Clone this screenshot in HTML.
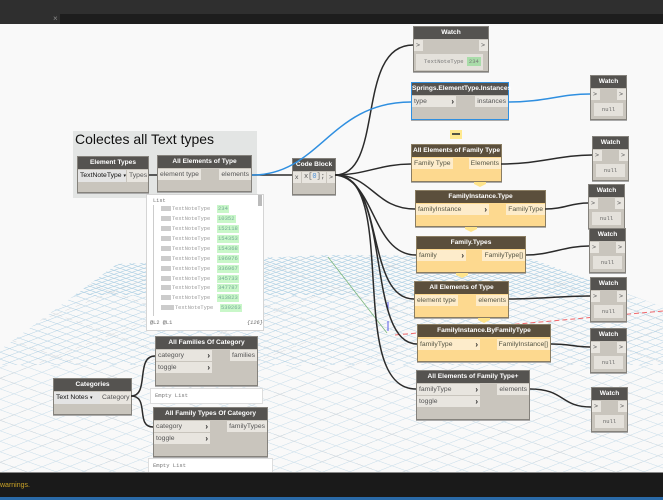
<!DOCTYPE html>
<html><head><meta charset="utf-8"><style>
html,body{margin:0;padding:0}
body{width:663px;height:500px;overflow:hidden;position:relative;background:#f9f9f9;font-family:"Liberation Sans",sans-serif}
div{box-sizing:border-box}
.a{position:absolute}
.n{position:absolute;background:#c9c5bd;border:1px solid #85827c;box-shadow:0 1px 0 #aaa}
.o{background:#fdd98f;border-color:#8a7d62}
.h{position:absolute;left:0;right:0;top:0;height:12px;background:#555350;color:#fff;font-weight:bold;font-size:6.6px;line-height:12px;text-align:center;white-space:nowrap}
.o .h{background:#5b4f3c}
.p{position:absolute;height:11px;background:#e8e5df;color:#555;font-size:6.8px;line-height:11px;padding:0 2px;white-space:nowrap}
.o .p{background:#fdeccb;color:#554}
.r{text-align:right}
.c{position:absolute;right:2px;font-weight:bold;color:#222;font-size:8px}
.w{position:absolute;left:3px;right:3px;top:27px;height:13px;background:#e4e1db;color:#666;font:5.5px/13px "Liberation Mono",monospace;text-align:center}
.t{position:absolute;font:5.3px/8px "Liberation Mono",monospace;color:#999;white-space:nowrap}
.i{position:absolute;width:10px;height:5px;background:#ccc;left:161px}
.g{position:absolute;height:8px;background:#c9f7c9;color:#7a9;font:5.5px/8px "Liberation Mono",monospace;padding:0 1px;left:217px}
.e{position:absolute;background:#fff;border:1px solid #ddd;color:#777;font:5.5px/13px "Liberation Mono",monospace;padding-left:4px}
.y{position:absolute;width:12px;height:5px;background:#ffe48a;clip-path:polygon(0 0,100% 0,100% 40%,50% 100%,0 40%)}
</style></head><body>
<svg class="a" style="left:0;top:0" width="663" height="500" viewBox="0 0 663 500">
<defs>
<pattern id="g1" width="10" height="10" patternUnits="userSpaceOnUse" patternTransform="matrix(0.6 0.2 -0.6 0.2 0 0)"><path d="M0 0H10M0 0V10" stroke="#a9cde2" stroke-width="3" fill="none"/></pattern>
<pattern id="g2" width="10" height="10" patternUnits="userSpaceOnUse" patternTransform="matrix(0.95 0.33 -0.95 0.36 0 0)"><path d="M0 0H10M0 0V10" stroke="#b9d5e6" stroke-width="1.6" fill="none"/></pattern>
<pattern id="g3" width="10" height="10" patternUnits="userSpaceOnUse" patternTransform="matrix(1.4 0.5 -1.4 0.55 0 0)"><path d="M0 0H10M0 0V10" stroke="#c6dce9" stroke-width="1" fill="none"/></pattern>
<pattern id="g4" width="10" height="10" patternUnits="userSpaceOnUse" patternTransform="matrix(5.6 2 -5.6 2.2 0 0)"><path d="M0 0H10M0 0V10" stroke="#cdd2d6" stroke-width="0.2" stroke-dasharray="1.2 .6" fill="none"/></pattern>
<clipPath id="c1"><polygon points="0,350 117,264 330,255 527,257 663,307 663,472 0,472"/></clipPath>
</defs>
<g clip-path="url(#c1)">
<rect x="0" y="250" width="663" height="45" fill="url(#g1)"/>
<rect x="0" y="295" width="663" height="70" fill="url(#g2)"/>
<rect x="0" y="365" width="663" height="110" fill="url(#g3)"/>
<rect x="0" y="250" width="663" height="225" fill="url(#g4)"/>
</g>
<path d="M328,257L387,333" stroke="#7fb77f" stroke-width=".8" fill="none"/>
<path d="M395,335L663,311" stroke="#f0676b" stroke-width="1" stroke-dasharray="5 3" fill="none"/>
<path d="M388,302V312M388,321V331" stroke="#5a5ae6" stroke-width="1" fill="none"/>
</svg>
<div class="a" style="left:0;top:0;width:663px;height:24px;background:#2f2f2f"></div>
<div class="a" style="left:60px;top:14px;width:603px;height:10px;background:#1d1d1d"></div>
<div class="a" style="left:53px;top:14px;color:#888;font-size:8px;line-height:10px">×</div>
<div class="a" style="left:73px;top:131px;width:184px;height:67px;background:#e3e5e4"></div>
<div class="a" style="left:75px;top:131px;font-size:14px;line-height:17px;color:#111;white-space:nowrap">Colectes all Text types</div>

<div class="a" style="left:146px;top:194px;width:118px;height:137px;background:#fff;border:1px solid #d5d5d5"></div>
<div class="a" style="left:153px;top:205px;width:1px;height:111px;background:#ccc"></div>
<div class="a" style="left:258px;top:195px;width:4px;height:11px;background:#bbb"></div>
<div class="t" style="left:153px;top:197px;color:#777">List</div>
<div class="i" style="top:206px"></div><div class="t" style="left:172px;top:205px">TextNoteType</div><div class="g" style="top:205px">234</div>
<div class="i" style="top:216px"></div><div class="t" style="left:172px;top:215px">TextNoteType</div><div class="g" style="top:215px">10352</div>
<div class="i" style="top:226px"></div><div class="t" style="left:172px;top:225px">TextNoteType</div><div class="g" style="top:225px">152118</div>
<div class="i" style="top:236px"></div><div class="t" style="left:172px;top:235px">TextNoteType</div><div class="g" style="top:235px">154353</div>
<div class="i" style="top:246px"></div><div class="t" style="left:172px;top:245px">TextNoteType</div><div class="g" style="top:245px">154368</div>
<div class="i" style="top:256px"></div><div class="t" style="left:172px;top:255px">TextNoteType</div><div class="g" style="top:255px">196976</div>
<div class="i" style="top:266px"></div><div class="t" style="left:172px;top:265px">TextNoteType</div><div class="g" style="top:265px">336967</div>
<div class="i" style="top:276px"></div><div class="t" style="left:172px;top:275px">TextNoteType</div><div class="g" style="top:275px">345733</div>
<div class="i" style="top:285px"></div><div class="t" style="left:172px;top:284px">TextNoteType</div><div class="g" style="top:284px">347787</div>
<div class="i" style="top:295px"></div><div class="t" style="left:172px;top:294px">TextNoteType</div><div class="g" style="top:294px">413823</div>
<div class="i" style="top:305px;width:13px"></div><div class="t" style="left:175px;top:304px">TextNoteType</div><div class="g" style="top:304px;left:220px">539263</div>
<div class="a" style="left:147px;top:316px;width:116px;height:14px;background:#fff"></div>
<div class="t" style="left:150px;top:319px;color:#666">@L2 @L1</div>
<div class="t" style="left:247px;top:319px;color:#666;font-style:italic">{126}</div>

<div class="e" style="left:150px;top:388px;width:113px;height:16px">Empty List</div>
<div class="e" style="left:148px;top:458px;width:125px;height:15px">Empty List</div>

<div class="n" style="left:77px;top:156px;width:72px;height:37px"><div class="h">Element Types</div><div class="p" style="left:0;top:13px;width:48px;height:12px;color:#111;background:#e4e4e4">TextNoteType <span style="font-size:5px">▾</span></div><div class="p r" style="right:0;top:13px;width:21px;height:12px">Types</div></div>
<div class="n" style="left:157px;top:155px;width:95px;height:37px"><div class="h">All Elements of Type</div><div class="p" style="left:0;top:13px">element type</div><div class="p r" style="right:0;top:13px">elements</div></div>
<div class="n" style="left:292px;top:158px;width:44px;height:37px"><div class="h">Code Block</div><div class="p" style="left:0;top:13px;width:8px">x</div><div class="p" style="left:9px;top:13px;width:24px;font-family:'Liberation Mono',monospace;font-size:7px">x[<span style="color:#4a90d9">0</span>];</div><div class="p" style="right:0;top:13px;width:8px">&gt;</div></div>

<div class="n" style="left:413px;top:26px;width:76px;height:46px"><div class="h">Watch</div><div class="p" style="left:0;top:13px;width:9px">&gt;</div><div class="p" style="right:0;top:13px;width:9px">&gt;</div><div class="a" style="left:2px;right:5px;top:27px;height:16px;background:#e4e1db;color:#777;font:5.5px/16px 'Liberation Mono',monospace;padding-left:8px;white-space:nowrap">TextNoteType <span style="background:#a9dca9;padding:1px 2px">234</span></div></div>
<div class="n" style="left:411px;top:82px;width:98px;height:38px;border-color:#2f8fe0"><div class="h">Springs.ElementType.Instances</div><div class="p" style="left:0;top:13px;width:44px">type<span class="c">›</span></div><div class="p r" style="right:0;top:13px">instances</div></div>
<div class="n" style="left:590px;top:75px;width:37px;height:45px"><div class="h">Watch</div><div class="p" style="left:0;top:13px;width:9px">&gt;</div><div class="p" style="right:0;top:13px;width:9px">&gt;</div><div class="w">null</div></div>

<div class="a" style="left:450px;top:130px;width:12px;height:9px;background:#ffe98f"><div style="margin:3px 2px 0;height:2px;background:#554"></div></div>
<div class="n o" style="left:411px;top:144px;width:91px;height:38px"><div class="h">All Elements of Family Type</div><div class="p" style="left:0;top:13px">Family Type</div><div class="p r" style="right:0;top:13px">Elements</div></div>
<div class="n" style="left:592px;top:136px;width:37px;height:45px"><div class="h">Watch</div><div class="p" style="left:0;top:13px;width:9px">&gt;</div><div class="p" style="right:0;top:13px;width:9px">&gt;</div><div class="w">null</div></div>
<div class="n o" style="left:415px;top:190px;width:131px;height:37px"><div class="h">FamilyInstance.Type</div><div class="p" style="left:0;top:13px;width:73px">familyInstance<span class="c">›</span></div><div class="p r" style="right:0;top:13px">FamilyType</div></div>
<div class="n" style="left:588px;top:184px;width:37px;height:45px"><div class="h">Watch</div><div class="p" style="left:0;top:13px;width:9px">&gt;</div><div class="p" style="right:0;top:13px;width:9px">&gt;</div><div class="w">null</div></div>
<div class="n o" style="left:416px;top:236px;width:110px;height:37px"><div class="h">Family.Types</div><div class="p" style="left:0;top:13px;width:49px">family<span class="c">›</span></div><div class="p r" style="right:0;top:13px">FamilyType[]</div></div>
<div class="n" style="left:589px;top:228px;width:37px;height:45px"><div class="h">Watch</div><div class="p" style="left:0;top:13px;width:9px">&gt;</div><div class="p" style="right:0;top:13px;width:9px">&gt;</div><div class="w">null</div></div>
<div class="n o" style="left:414px;top:281px;width:95px;height:37px"><div class="h">All Elements of Type</div><div class="p" style="left:0;top:13px">element type</div><div class="p r" style="right:0;top:13px">elements</div></div>
<div class="n" style="left:590px;top:277px;width:37px;height:45px"><div class="h">Watch</div><div class="p" style="left:0;top:13px;width:9px">&gt;</div><div class="p" style="right:0;top:13px;width:9px">&gt;</div><div class="w">null</div></div>
<div class="n o" style="left:417px;top:324px;width:134px;height:38px"><div class="h">FamilyInstance.ByFamilyType</div><div class="p" style="left:0;top:14px;width:62px">familyType<span class="c">›</span></div><div class="p r" style="right:0;top:14px">FamilyInstance[]</div></div>
<div class="n" style="left:590px;top:328px;width:37px;height:45px"><div class="h">Watch</div><div class="p" style="left:0;top:13px;width:9px">&gt;</div><div class="p" style="right:0;top:13px;width:9px">&gt;</div><div class="w">null</div></div>
<div class="n" style="left:416px;top:370px;width:114px;height:50px"><div class="h">All Elements of Family Type+</div><div class="p" style="left:0;top:13px;width:63px">familyType<span class="c">›</span></div><div class="p" style="left:0;top:25px;width:63px">toggle<span class="c">›</span></div><div class="p r" style="right:0;top:13px">elements</div></div>
<div class="n" style="left:591px;top:387px;width:37px;height:45px"><div class="h">Watch</div><div class="p" style="left:0;top:13px;width:9px">&gt;</div><div class="p" style="right:0;top:13px;width:9px">&gt;</div><div class="w">null</div></div>
<div class="y" style="left:474px;top:182px"></div>
<div class="y" style="left:465px;top:227px"></div>
<div class="y" style="left:456px;top:273px"></div>
<div class="y" style="left:478px;top:318px"></div>

<div class="n" style="left:155px;top:336px;width:103px;height:50px"><div class="h">All Families Of Category</div><div class="p" style="left:0;top:13px;width:56px">category<span class="c">›</span></div><div class="p" style="left:0;top:25px;width:56px">toggle<span class="c">›</span></div><div class="p r" style="right:0;top:13px">families</div></div>
<div class="n" style="left:153px;top:407px;width:115px;height:50px"><div class="h">All Family Types Of Category</div><div class="p" style="left:0;top:13px;width:56px">category<span class="c">›</span></div><div class="p" style="left:0;top:25px;width:56px">toggle<span class="c">›</span></div><div class="p r" style="right:0;top:13px">familyTypes</div></div>
<div class="n" style="left:53px;top:378px;width:79px;height:37px"><div class="h">Categories</div><div class="p" style="left:0;top:13px;width:46px;height:12px;color:#111;background:#e4e4e4">Text Notes <span style="font-size:5px">▾</span></div><div class="p r" style="right:0;top:13px;width:31px;height:12px">Category</div></div>

<svg class="a" style="left:0;top:0" width="663" height="500" viewBox="0 0 663 500" fill="none">
<g stroke="#2b2b2b" stroke-width="1.5">
<path d="M149,175H157M252,175H292"/>
<path d="M335,175C385,175 355,45 413,45"/>
<path d="M335,175C365,175 380,164 411,164"/>
<path d="M335,175C372,175 375,209 415,209"/>
<path d="M335,175C375,178 372,255 416,255"/>
<path d="M335,175C385,175 365,299 414,299"/>
<path d="M335,175C392,175 365,344 417,344"/>
<path d="M335,175C400,175 345,389 416,389"/>
<path d="M501,164C540,164 560,155 592,155"/>
<path d="M545,209C565,209 570,203 588,203"/>
<path d="M526,255C550,255 565,246 589,246"/>
<path d="M509,299C540,299 560,296 590,296"/>
<path d="M551,344C570,344 575,347 590,347"/>
<path d="M530,389C565,389 560,407 591,407"/>
<path d="M131,396C150,396 135,356 155,356"/>
<path d="M131,396C150,396 135,427 153,427"/>
</g>
<g stroke="#2f8fe0" stroke-width="1.5">
<path d="M252,175C320,175 330,102 411,102"/>
<path d="M509,102C545,102 560,94 590,94"/>
</g>
</svg>

<div class="a" style="left:0;top:472px;width:663px;height:25px;background:#1a1a1a;border-top:1px solid #888"></div>
<div class="a" style="left:0;top:480px;color:#c9a227;font-size:7px;line-height:12px">warnings.</div>
<div class="a" style="left:0;top:497px;width:663px;height:3px;background:#2a6aa8"></div>
</body></html>
